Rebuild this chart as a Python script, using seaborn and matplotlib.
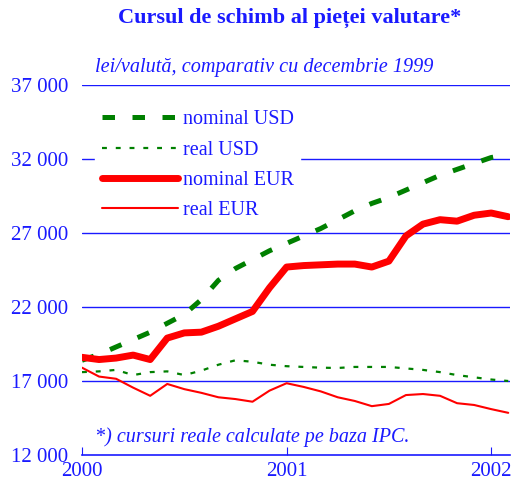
import matplotlib
matplotlib.use("Agg")
import matplotlib.pyplot as plt
import matplotlib.ticker as mticker
import numpy as np
import pandas as pd
import seaborn as sns

# ── Data (monthly, Jan 2000 – Feb 2002, lei per currency unit) ────────────────

months = np.arange(26)
nominal_usd = [18400, 18800, 19300, 19800, 20300, 20900, 21500, 22500, 23800, 24600,
               25200, 25800, 26300, 26800, 27300, 27900, 28500, 29000, 29400, 29900,
               30400, 30900, 31300, 31700, 32100, 32300]
real_usd = [17600, 17650, 17750, 17400, 17600, 17650, 17400, 17700, 18100, 18400,
            18300, 18100, 18000, 17950, 17900, 17880, 17950, 17950, 17950, 17850,
            17750, 17600, 17400, 17250, 17100, 17000]
nominal_eur = [18600, 18450, 18550, 18750, 18450, 19900, 20250, 20300, 20700, 21200,
               21700, 23300, 24700, 24800, 24850, 24900, 24900, 24700, 25100, 26800,
               27600, 27900, 27800, 28200, 28350, 28100]
real_eur = [17900, 17300, 17150, 16550, 16000, 16800, 16450, 16200, 15900, 15780,
            15600, 16350, 16850, 16600, 16300, 15900, 15650, 15300, 15450, 16050,
            16120, 16000, 15500, 15380, 15100, 14850]

labels = ["nominal USD", "real USD", "nominal EUR", "real EUR"]
year_ticks = [2000, 2001, 2002]
y_ticks = [12000, 17000, 22000, 27000, 32000, 37000]

BLUE = "#1a1aff"
GREEN = "#008000"
RED = "#ff0000"

sns.set_style("white")
plt.rcParams["font.family"] = ["Liberation Serif", "DejaVu Serif"]
plt.rcParams["font.size"] = 14.5

x = 2000 + months / 12

fig = plt.figure(figsize=(5.14, 4.88), dpi=100)
ax = fig.add_axes([82 / 514, 33 / 488, 428 / 514, 370 / 488])

styles = [
    (nominal_usd, GREEN, 3.6, (2.5, 3.5)),
    (real_usd, GREEN, 1.6, (2.2, 4.0)),
    (nominal_eur, RED, 5.0, None),
    (real_eur, RED, 1.5, None),
]
for (vals, col, lw, dash), lab in zip(styles, labels):
    sns.lineplot(x=x, y=vals, ax=ax, color=col, lw=lw, label=lab)
    l = ax.get_lines()[-1]
    if dash is not None:
        l.set_dashes(dash)
    l.set_solid_capstyle("round")

ax.set_xlim(2000, 2002.092)
ax.set_ylim(12000, 37000)
ax.set_xticks(year_ticks)
ax.set_yticks(y_ticks)
ax.yaxis.set_major_formatter(mticker.FuncFormatter(lambda v, p: f"{int(v):,}".replace(",", " ")))

for v in y_ticks[1:]:
    ax.axhline(v, color=BLUE, lw=1, zorder=0)

for s in ["top", "right", "left"]:
    ax.spines[s].set_visible(False)
ax.spines["bottom"].set_color(BLUE)
ax.spines["bottom"].set_linewidth(1.2)
ax.tick_params(axis="x", direction="in", length=6, color=BLUE, labelcolor=BLUE,
               labelsize=15, pad=5, bottom=True)
ax.tick_params(axis="y", length=0, labelcolor=BLUE, labelsize=15, pad=10)

leg = ax.legend(loc="upper left", bbox_to_anchor=(0.008, 0.975), frameon=True,
                fancybox=False, framealpha=1, edgecolor="white", facecolor="white",
                handlelength=3.8, labelspacing=0.55, handletextpad=0.25,
                borderpad=0.3, fontsize=14.5)
for t in leg.get_texts():
    t.set_color(BLUE)
leg.set_zorder(1)

ax.text(0.03, 1.046, "lei/valută, comparativ cu decembrie 1999", transform=ax.transAxes,
        fontsize=14.6, style="italic", color=BLUE, va="center", ha="left")
ax.text(0.03, 0.049, "*) cursuri reale calculate pe baza IPC.", transform=ax.transAxes,
        fontsize=14.5, style="italic", color=BLUE, va="center", ha="left")

fig.text(0.564, 0.963, "Cursul de schimb al pieței valutare*", fontsize=16,
         fontweight="bold", color=BLUE, ha="center", va="center")

fig.savefig("out.png", dpi=100)
